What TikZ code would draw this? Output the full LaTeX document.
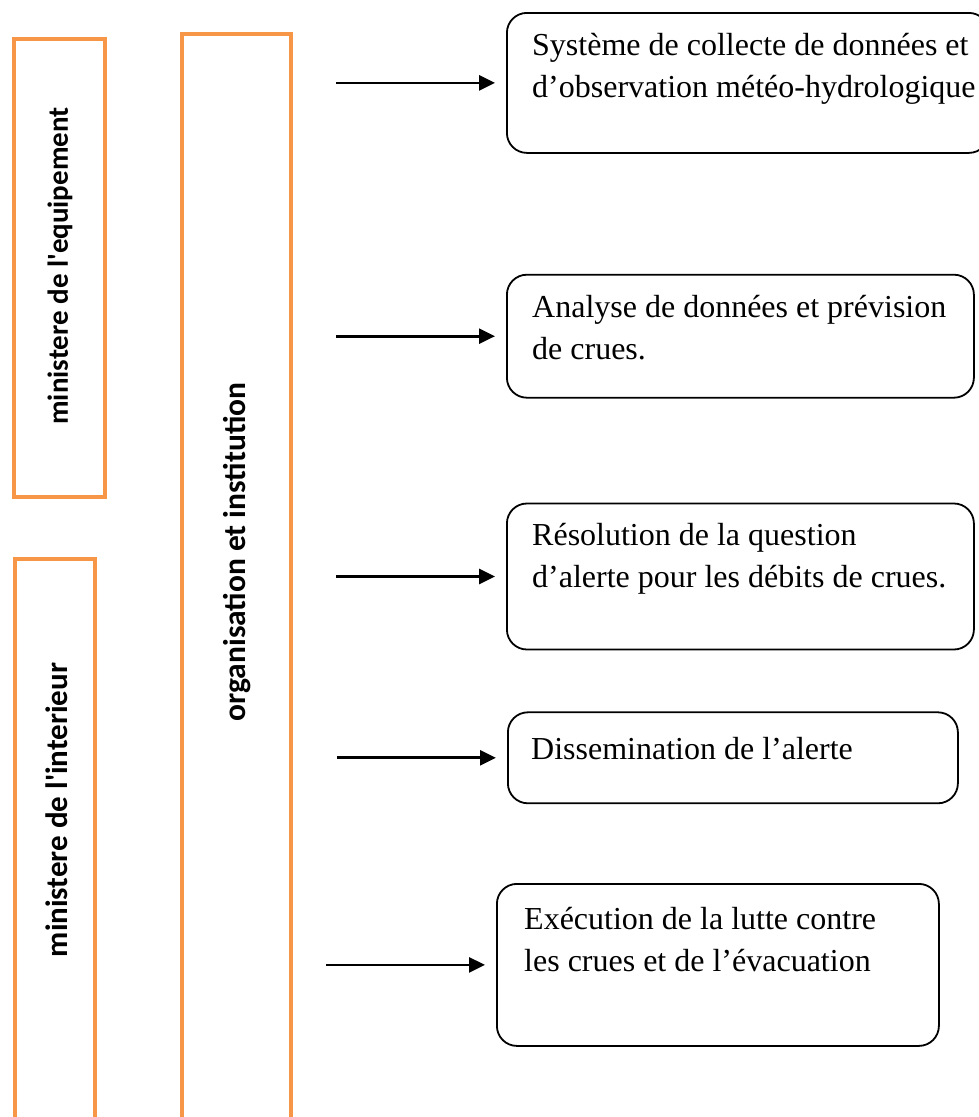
\documentclass[tikz,border=0pt]{standalone}
\usepackage{fontspec}
\setmainfont{Liberation Serif}
\newfontfamily\calibrifont{Carlito}[Ligatures=TeXOff]
\usepackage{tikz}
\usetikzlibrary{arrows.meta,positioning}
\definecolor{accentorange}{RGB}{247,150,70}

\begin{document}
\begin{tikzpicture}[
    x=1pt, y=-1pt,
    bar/.style={draw=accentorange, line width=3.5pt, inner sep=0pt},
    barlabel/.style={rotate=90, inner sep=0pt, font=\calibrifont\bfseries\fontsize{#1}{34}\selectfont},
    stage/.style={draw, line width=1.8pt, rounded corners=20pt, inner sep=0pt, anchor=north west},
    stagetext/.style={inner sep=0pt, align=left, font=\fontsize{32}{42}\selectfont, execute at begin node=\strut},
    arrow/.style={line width=2.8pt, -{Triangle[length=16pt,width=15pt]}, shorten >=11pt}
]

\useasboundingbox (0,0) rectangle (979,1117);

\node[bar, minimum width=91pt, minimum height=458pt] (equip) at (59.5,268) {};
\node[bar, minimum width=80pt, minimum height=567pt] (interior) at (55,842.5) {};
\node[bar, minimum width=109pt, minimum height=1091pt] (org) at (236.5,579.5) {};

\node[barlabel=29] (equiptext) at (60,266) {ministere de l'equipement};
\node[barlabel=31] (interiortext) at (57,810) {ministere de l'interieur};
\node[barlabel=31.5] (orgtext) at (237,552) {organisation et institution};

\node[stage, minimum width=482pt, minimum height=140pt] (collect) at (506,12) {};
\node[stage, minimum width=467pt, minimum height=123pt, below right=120pt and 0pt of collect.south west] (forecast) {};
\node[stage, minimum width=467pt, minimum height=146pt, below right=104pt and 0pt of forecast.south west] (alert) {};
\node[stage, minimum width=450pt, minimum height=91pt, below right=61pt and 1pt of alert.south west] (dissem) {};
\node[stage, minimum width=442pt, minimum height=162pt] (fight) at (496,883) {};

\node[stagetext, below right=21pt and 26pt of collect.north west] (collecttext) {Système de collecte de données et\\d’observation météo-hydrologique};
\node[stagetext, below right=21pt and 26pt of forecast.north west] (forecasttext) {Analyse de données et prévision\\de crues.};
\node[stagetext, below right=20pt and 26pt of alert.north west] (alerttext) {Résolution de la question\\d’alerte pour les débits de crues.};
\node[stagetext, below right=18pt and 24pt of dissem.north west] (dissemtext) {Dissemination de l’alerte};
\node[stagetext, below right=24pt and 28pt of fight.north west] (fighttext) {Exécution de la lutte contre\\les crues et de l’évacuation};

\coordinate[left=170pt of collect.west] (a1);
\coordinate[left=170pt of forecast.west] (a2);
\coordinate[left=170pt of alert.west] (a3);
\coordinate[left=170pt of dissem.west] (a4);
\coordinate[left=170pt of fight.west] (a5);

\draw[arrow] (a1) -- (collect);
\draw[arrow] (a2) -- (forecast);
\draw[arrow] (a3) -- (alert);
\draw[arrow] (a4) -- (dissem);
\draw[arrow] (a5) -- (fight);

\end{tikzpicture}
\end{document}
